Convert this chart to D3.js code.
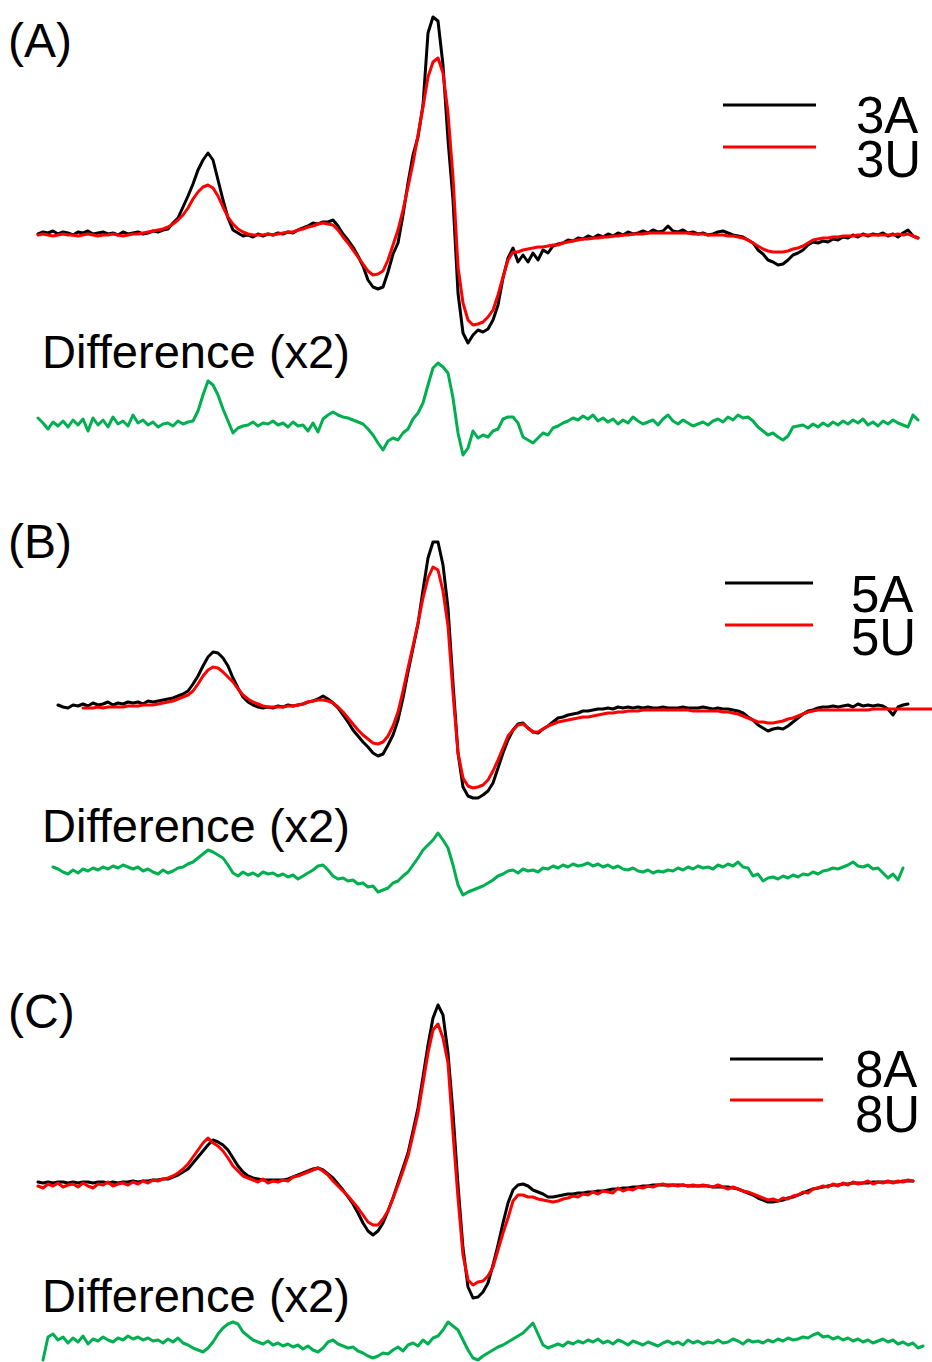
<!DOCTYPE html>
<html><head><meta charset="utf-8">
<script src="https://cdn.jsdelivr.net/npm/d3@7/dist/d3.min.js"></script>
<style>body{margin:0;background:#fff}svg{display:block}</style>
</head><body>
<svg id="chart" width="932" height="1362"></svg>
<script>
// ---- data (sample index on a common field grid; intensity in arbitrary units) ----
const panelLabels = ["(A)", "(B)", "(C)"];
const legendNames = [["3A", "3U"], ["5A", "5U"], ["8A", "8U"]];
const diffLabel = "Difference (x2)";

// first sample index of each trace [black, red, diff]
const startA = [0, 0, 0];
const startB = [4, 9, 3];
const startC = [0, 0, 1];

const A_black = [1,3,2,4,1,3,2,0,3,2,4,1,2,3,1,2,0,3,1,2,3,1,2,4,3,5,
 6,12,17,28,39,51,65,75,82,75,55,35,17,5,2,
 -1,0,-2,1,-1,1,0,2,1,3,2,5,7,9,12,11,13,13,15,9,
 1,-5,-12,-21,-31,-45,-52,-54,-52,-37,-19,-8,20,52,80,98,130,202,218,214,
 170,95,35,-58,-98,-108,-100,-95,-97,-94,-85,-70,-43,-23,-13,-27,-20,-27,-18,-25,
 -15,-18,-11,-9,-8,-5,-6,-3,-4,-1,-3,0,-2,1,-1,2,0,3,1,2,
 4,2,5,3,4,9,4,3,5,2,3,1,2,0,1,3,4,2,0,-1,
 -2,-5,-8,-15,-19,-25,-27,-30,-29,-25,-20,-18,-15,-10,-7,-8,-6,-7,-4,-5,
 -2,-3,0,-2,1,-1,1,0,2,-1,1,-2,2,5,-1,-3];
const A_red = [0,1,0,-1,0,1,0,0,-1,0,1,0,-1,0,0,1,0,-1,0,1,1,2,3,4,5,6,
 8,11,15,20,27,36,43,48,50,47,39,28,18,11,6,
 3,1,0,0,0,1,0,1,2,3,3,5,6,8,9,11,12,11,10,5,
 -2,-8,-15,-22,-29,-36,-40,-39,-36,-25,-10,5,25,48,72,100,128,158,173,177,
 162,122,58,-32,-68,-85,-90,-89,-87,-82,-75,-60,-42,-25,-17,-17,-15,-14,-13,-12,
 -12,-11,-10,-10,-8,-7,-6,-5,-4,-4,-3,-3,-2,-2,-1,-1,0,0,1,1,
 1,2,2,2,2,2,2,2,2,2,1,1,1,0,0,0,0,-1,-1,-2,
 -3,-5,-8,-11,-14,-16,-17,-17,-17,-16,-14,-13,-11,-8,-5,-4,-3,-3,-2,-2,
 -1,-1,-1,0,0,0,0,0,0,0,0,1,0,1,-1,-3];
const A_diff = [5,0,-6,1,-3,2,-4,3,-2,4,-8,5,-2,3,-4,6,-1,2,-3,8,
 0,3,-2,1,-4,-1,0,-3,2,-1,1,2,12,28,42,38,28,14,2,-10,
 -5,-3,-2,1,-3,0,-1,2,-2,0,-4,1,-3,-2,-8,0,-9,4,8,11,
 8,6,5,3,1,-1,-6,-12,-20,-27,-18,-15,-17,-10,-6,4,10,20,38,55,
 60,56,50,25,-10,-32,-25,-8,-15,-12,-14,-8,-6,4,6,6,0,-14,-17,-20,
 -15,-10,-12,-5,-3,0,2,5,3,7,4,8,2,5,1,4,-1,3,0,6,
 2,-1,1,3,-2,4,8,2,-1,3,0,-3,-1,1,-2,2,4,1,6,3,
 8,5,6,2,-4,-8,-12,-10,-14,-17,-13,-4,-3,-2,-5,-1,-4,0,-3,1,
 -2,2,-1,3,0,4,-2,1,-3,2,-1,3,0,-2,-4,8,3];

const B_black = [3,1,0,3,2,4,2,5,3,4,6,3,5,4,6,5,6,4,7,6,
 7,8,9,10,12,14,17,24,32,42,51,56,55,50,42,30,20,11,6,3,
 1,0,1,0,2,1,3,2,3,4,6,7,9,12,9,5,0,-7,-14,-22,
 -28,-34,-39,-45,-48,-46,-37,-27,-12,10,36,60,84,118,150,166,166,143,100,25,
 -45,-79,-88,-90,-90,-87,-83,-75,-60,-45,-32,-22,-16,-15,-20,-24,-25,-21,-18,-14,
 -10,-9,-7,-6,-5,-3,-3,-2,-1,-1,0,-1,1,0,1,0,1,0,1,0,
 0,1,0,0,0,1,0,0,0,1,0,-1,0,-1,-1,-2,-3,-5,-9,-12,
 -17,-20,-23,-21,-20,-21,-18,-14,-10,-6,-3,-2,0,1,1,2,1,2,3,1,
 4,2,3,2,3,2,-1,-7,1,3,4];
const B_red = [0,0,0,1,0,1,1,1,1,2,2,2,3,3,3,4,5,6,7,9,
 11,13,17,24,32,38,41,40,36,31,26,19,13,9,6,4,2,1,1,1,
 1,2,2,3,4,6,7,8,8,7,5,1,-4,-10,-16,-22,-27,-31,-35,-36,
 -34,-28,-18,-4,17,40,62,85,110,130,141,138,117,82,15,-45,-70,-78,-80,-79,
 -77,-72,-63,-52,-40,-28,-22,-17,-16,-20,-24,-24,-21,-18,-16,-14,-13,-12,-11,-10,
 -9,-9,-8,-7,-6,-5,-5,-4,-4,-3,-3,-3,-2,-2,-2,-2,-2,-2,-2,-2,
 -2,-2,-3,-3,-3,-3,-3,-3,-4,-4,-5,-6,-8,-10,-12,-14,-14,-15,-15,-14,
 -13,-11,-10,-8,-6,-4,-3,-2,-2,-2,-2,-2,-2,-2,-2,-2,-2,-2,-1,-1,
 -1,-1,-1,-1,-1,-1,-1,-1,-1,-1,-1];
const B_diff = [3,1,-2,-4,0,-3,1,-1,2,0,3,1,4,2,5,3,1,3,-1,1,
 -2,-4,0,-3,-1,2,3,6,8,12,16,20,18,15,12,5,-3,-6,-2,-5,
 -3,-6,-2,-4,-3,-6,-4,-7,-5,-9,-6,-3,0,4,5,0,-6,-9,-8,-11,
 -10,-14,-13,-17,-16,-22,-20,-18,-13,-11,-6,-2,5,12,20,25,30,37,30,22,
 5,-15,-25,-22,-20,-18,-16,-13,-10,-6,-4,-1,0,-3,1,-1,0,-2,2,1,
 4,2,5,3,6,4,5,7,4,6,3,5,2,4,1,0,2,-1,-2,0,
 -3,-1,-2,0,-1,2,0,3,1,4,2,3,1,5,3,6,4,8,3,2,
 -6,-4,-11,-8,-7,-9,-6,-8,-5,-7,-4,-5,-2,-4,-1,0,2,1,3,5,
 8,4,3,5,1,2,-3,-8,-4,-10,2];

const C_black = [1,0,1,0,1,1,0,1,0,1,1,0,1,1,0,1,0,1,1,2,1,2,2,3,3,4,
 4,6,8,11,14,20,26,32,38,43,41,38,33,25,17,11,7,5,4,3,
 3,3,3,3,4,6,8,10,12,14,15,13,9,5,-1,-7,-14,-21,-30,-40,
 -48,-52,-48,-40,-28,-15,0,15,30,52,75,106,138,165,178,168,130,70,-2,-65,
 -104,-115,-114,-109,-100,-82,-62,-40,-20,-7,-2,-1,-3,-7,-9,-11,-14,-14,-13,-12,
 -11,-11,-10,-10,-9,-9,-8,-8,-7,-6,-6,-5,-5,-4,-4,-3,-3,-2,-2,-2,
 -2,-2,-2,-2,-3,-3,-3,-3,-3,-4,-4,-4,-4,-5,-6,-8,-10,-12,-15,-17,
 -19,-19,-18,-17,-15,-14,-12,-10,-8,-6,-5,-4,-3,-2,-2,-1,-1,0,0,0,
 0,1,1,1,1,1,1,2,2,2];
const C_red = [-3,-5,-1,-3,0,-4,-2,-1,-4,0,-3,-5,-1,-2,1,-3,-1,0,-2,1,-1,2,0,3,2,4,
 5,7,10,14,19,26,33,40,45,40,37,32,25,17,12,7,5,3,1,4,
 0,2,1,3,2,6,7,9,11,13,15,12,8,2,-3,-8,-13,-19,-25,-32,
 -39,-42,-42,-36,-28,-15,-2,12,27,48,70,100,130,153,159,145,120,50,-15,-72,
 -97,-102,-99,-98,-93,-84,-67,-50,-35,-18,-12,-12,-14,-14,-16,-17,-18,-19,-18,-16,
 -15,-13,-14,-11,-12,-9,-11,-8,-9,-10,-5,-8,-6,-7,-4,-5,-3,-4,-2,-1,
 -3,-2,-3,-2,-3,-2,-3,-2,-3,-4,-2,-4,-6,-4,-6,-8,-9,-11,-13,-15,
 -17,-16,-18,-15,-16,-13,-12,-9,-10,-6,-5,-3,-4,-1,-3,0,-2,1,-1,0,
 2,-1,1,0,2,0,2,1,3,2];
const C_diff = [-18,5,8,2,5,-1,4,0,6,-2,3,1,5,2,0,4,2,6,3,5,
 2,4,1,2,-1,3,0,4,-1,-3,-6,-8,-10,-6,0,8,14,18,20,18,
 10,6,2,0,-2,1,-3,-1,-4,-2,-5,-3,-7,-4,-8,-10,-6,0,2,-2,
 -4,-6,-5,-9,-11,-14,-16,-14,-11,-12,-8,-5,-9,-3,-1,-4,2,-2,4,6,
 12,20,16,12,2,-8,-16,-18,-14,-11,-8,-5,-3,0,3,6,9,14,19,8,
 -3,-6,-4,-2,-4,0,-2,1,-1,2,0,3,-1,1,-2,2,0,-3,1,-1,
 -3,0,-2,-4,-1,1,-2,0,-3,2,-1,1,-2,0,-1,2,-1,0,3,1,
 -2,2,0,1,-1,2,0,3,1,4,2,3,5,4,7,9,5,6,3,5,
 2,4,1,3,0,2,-1,1,3,0,2,-2,0,-3,-1,-6,-4];

// ---- layout ----
const layout = [
  {base: 235, diffBase: 423, labelY: 57, diffY: 368, legY: [105, 147], legX: [723, 816], legTextX: 856, legTextY: [133, 177]},
  {base: 708, diffBase: 870, labelY: 558, diffY: 842, legY: [583, 625], legX: [725, 813], legTextX: 851, legTextY: [612, 655]},
  {base: 1183, diffBase: 1342, labelY: 1028, diffY: 1312, legY: [1059, 1100], legX: [730, 823], legTextX: 855, legTextY: [1087, 1132]}
];
const panelData = [
  {black: A_black, red: A_red, diff: A_diff, starts: startA},
  {black: B_black, red: B_red, diff: B_diff, starts: startB},
  {black: C_black, red: C_red, diff: C_diff, starts: startC}
];
const colors = {black: "#000000", red: "#ff0000", diff: "#00b050"};

const svg = d3.select("#chart");
const x = d3.scaleLinear().domain([0, 179]).range([38, 933]);
const font = "'Liberation Sans', Arial, Helvetica, sans-serif";

panelData.forEach((p, k) => {
  const L = layout[k];
  const y = d3.scaleLinear().domain([-200, 250]).range([L.base + 200, L.base - 250]);
  const yd = d3.scaleLinear().domain([-200, 250]).range([L.diffBase + 200, L.diffBase - 250]);
  const g = svg.append("g");

  const mk = (start, ys) => d3.line().x((d, i) => x(start + i)).y(d => ys(d));

  [["black", y], ["red", y], ["diff", yd]].forEach(([key, ys], j) => {
    g.append("path").datum(p[key]).attr("d", mk(p.starts[j], ys))
      .attr("fill", "none").attr("stroke", colors[key]).attr("stroke-width", 3)
      .attr("stroke-linejoin", "round").attr("stroke-linecap", "round");
  });

  g.append("text").attr("x", 8).attr("y", L.labelY).text(panelLabels[k])
    .attr("font-family", font).attr("font-size", 48).attr("fill", "#000");
  g.append("text").attr("x", 42).attr("y", L.diffY).text(diffLabel)
    .attr("font-family", font).attr("font-size", 46).attr("fill", "#000")
    .attr("textLength", 308).attr("lengthAdjust", "spacingAndGlyphs");

  [colors.black, colors.red].forEach((c, j) => {
    g.append("line").attr("x1", L.legX[0]).attr("x2", L.legX[1])
      .attr("y1", L.legY[j]).attr("y2", L.legY[j])
      .attr("stroke", c).attr("stroke-width", 3);
  });
  const lt = g.append("text").attr("font-family", font).attr("font-size", 51).attr("fill", "#000");
  legendNames[k].forEach((name, j) => {
    lt.append("tspan").attr("x", L.legTextX).attr("y", L.legTextY[j]).text(name);
  });
});
</script>
</body></html>
